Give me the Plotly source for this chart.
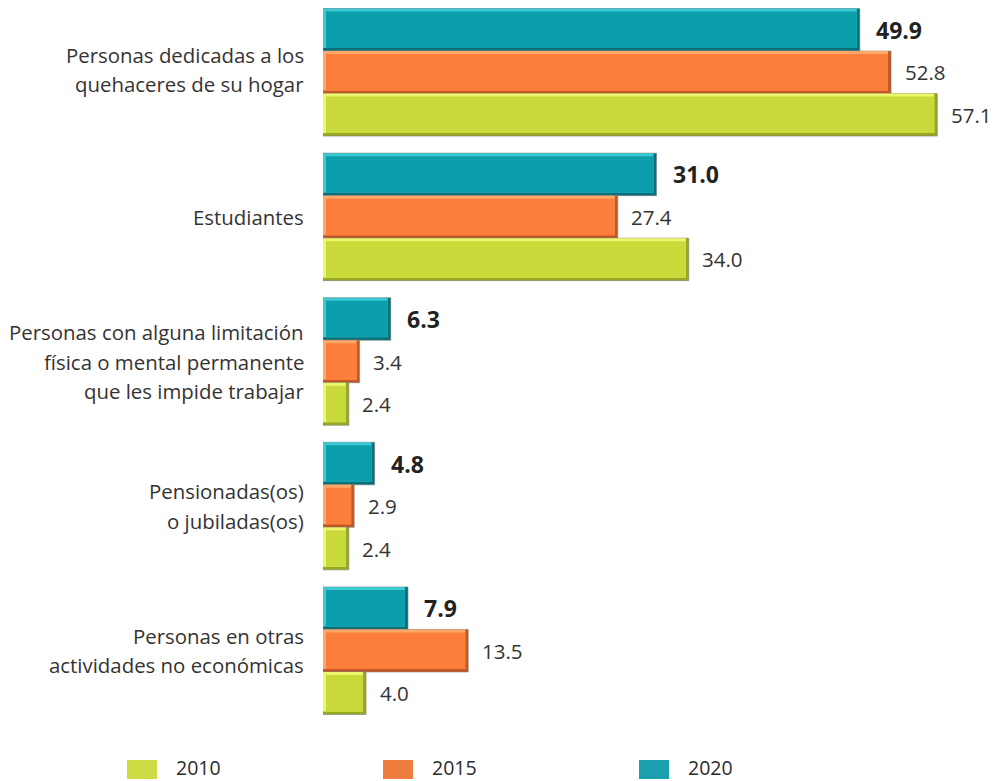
import plotly.graph_objects as go

# --- data -----------------------------------------------------------------
categories = [
    "Personas dedicadas a los<br>quehaceres de su hogar",
    "Estudiantes",
    "Personas con alguna limitación<br>física o mental permanente<br>que les impide trabajar",
    "Pensionadas(os)<br>o jubiladas(os)",
    "Personas en otras<br>actividades no económicas",
]
years = ["2010", "2015", "2020"]
values_2010 = [57.1, 34.0, 2.4, 2.4, 4.0]
values_2015 = [52.8, 27.4, 3.4, 2.9, 13.5]
values_2020 = [49.9, 31.0, 6.3, 4.8, 7.9]

# --- styling --------------------------------------------------------------
W, H = 993, 781
ML, MR, MT, MB = 323, 3, 0, 58
X_MAX = 62
plot_w = W - ML - MR
plot_h = H - MT - MB
px_x = X_MAX / plot_w            # data units per pixel (x)
px_y = 5.0 / plot_h              # data units per pixel (y)

BAR_W = 0.294                    # thickness of one bar in category units
EDGE = 3                         # bevel size in pixels
dx = EDGE * px_x
dy = EDGE * px_y

FONT = "Open Sans, Noto Sans, sans-serif"
TXT = "#333333"

series = [
    # year, values, slot offset, main, light, dark, legend colour, bold label
    ("2020", values_2020, -1, "#0c9eaa", "#3cc9d3", "#06717b", "#199fae", True),
    ("2015", values_2015, 0, "#fb7e3a", "#ffa86a", "#c45722", "#f07d40", False),
    ("2010", values_2010, 1, "#c8da3a", "#eef66e", "#98a820", "#cddb45", False),
]

fig = go.Figure()
annotations = []

for name, vals, slot, main, light, dark, leg, bold in series:
    ys = [i + slot * BAR_W for i in range(len(vals))]
    # outer bar: dark lower/right edge
    fig.add_trace(go.Bar(
        x=vals, y=ys, base=0, orientation="h", width=BAR_W,
        marker=dict(color=dark, line=dict(color="#7d7d7d", width=0.6)),
        hoverinfo="skip", showlegend=False,
    ))
    # light upper/left edge
    fig.add_trace(go.Bar(
        x=[v - dx for v in vals], y=[y - dy / 2 for y in ys], base=0,
        orientation="h", width=BAR_W - dy,
        marker=dict(color=light, line=dict(width=0)),
        hoverinfo="skip", showlegend=False,
    ))
    # bar face
    fig.add_trace(go.Bar(
        x=[v - 2 * dx for v in vals], y=ys, base=dx, orientation="h",
        width=BAR_W - 2 * dy,
        marker=dict(color=main, line=dict(width=0)),
        name=name, showlegend=False,
    ))
    # value labels
    for v, y in zip(vals, ys):
        annotations.append(dict(
            x=v, y=y, xref="x", yref="y", xanchor="left", yanchor="middle",
            xshift=15 if bold else 12.5, showarrow=False, borderpad=0,
            text=(f"<b>{v:.1f}</b>" if bold else f"{v:.1f}"),
            font=dict(family=FONT, size=23 if bold else 20.5,
                      color="#222222" if bold else TXT),
        ))

# category labels, one annotation per line
LINE_H = 29.5
for i, cat in enumerate(categories):
    lines = cat.split("<br>")
    n = len(lines)
    for j, line in enumerate(lines):
        annotations.append(dict(
            x=0, y=i, xref="x", yref="y", xanchor="right", yanchor="middle",
            xshift=-17, yshift=((n - 1) / 2 - j) * LINE_H + (3 if i == 0 else 0),
            showarrow=False,
            text=line, font=dict(family=FONT, size=20.4, color=TXT),
        ))

# legend drawn below the plot
shapes = []
LEG_X0 = 127
LEG_STEP = 256
sq_top, sq_bot, sq_w = 760, 779, 30


def paper_x(px):
    return (px - ML) / plot_w


def paper_y(py):
    return (H - MB - py) / plot_h


legend_order = sorted(series, key=lambda s: s[0])
for k, s in enumerate(legend_order):
    x0 = LEG_X0 + k * LEG_STEP
    shapes.append(dict(
        type="rect", xref="paper", yref="paper",
        x0=paper_x(x0), x1=paper_x(x0 + sq_w),
        y0=paper_y(sq_bot), y1=paper_y(sq_top),
        fillcolor=s[6], line=dict(width=0),
    ))
    annotations.append(dict(
        x=paper_x(x0 + sq_w + 17), y=paper_y(767),
        xref="paper", yref="paper", xanchor="left", yanchor="middle",
        showarrow=False, text=s[0],
        font=dict(family=FONT, size=19.5, color="#2b2b2b"),
    ))

fig.update_layout(
    width=W, height=H,
    margin=dict(l=ML, r=MR, t=MT, b=MB),
    paper_bgcolor="white", plot_bgcolor="white",
    barmode="overlay",
    xaxis=dict(range=[0, X_MAX], visible=False, fixedrange=True),
    yaxis=dict(range=[4.5, -0.5], visible=False, fixedrange=True),
    annotations=annotations,
    shapes=shapes,
    showlegend=False,
)

fig.write_html("out.html")
